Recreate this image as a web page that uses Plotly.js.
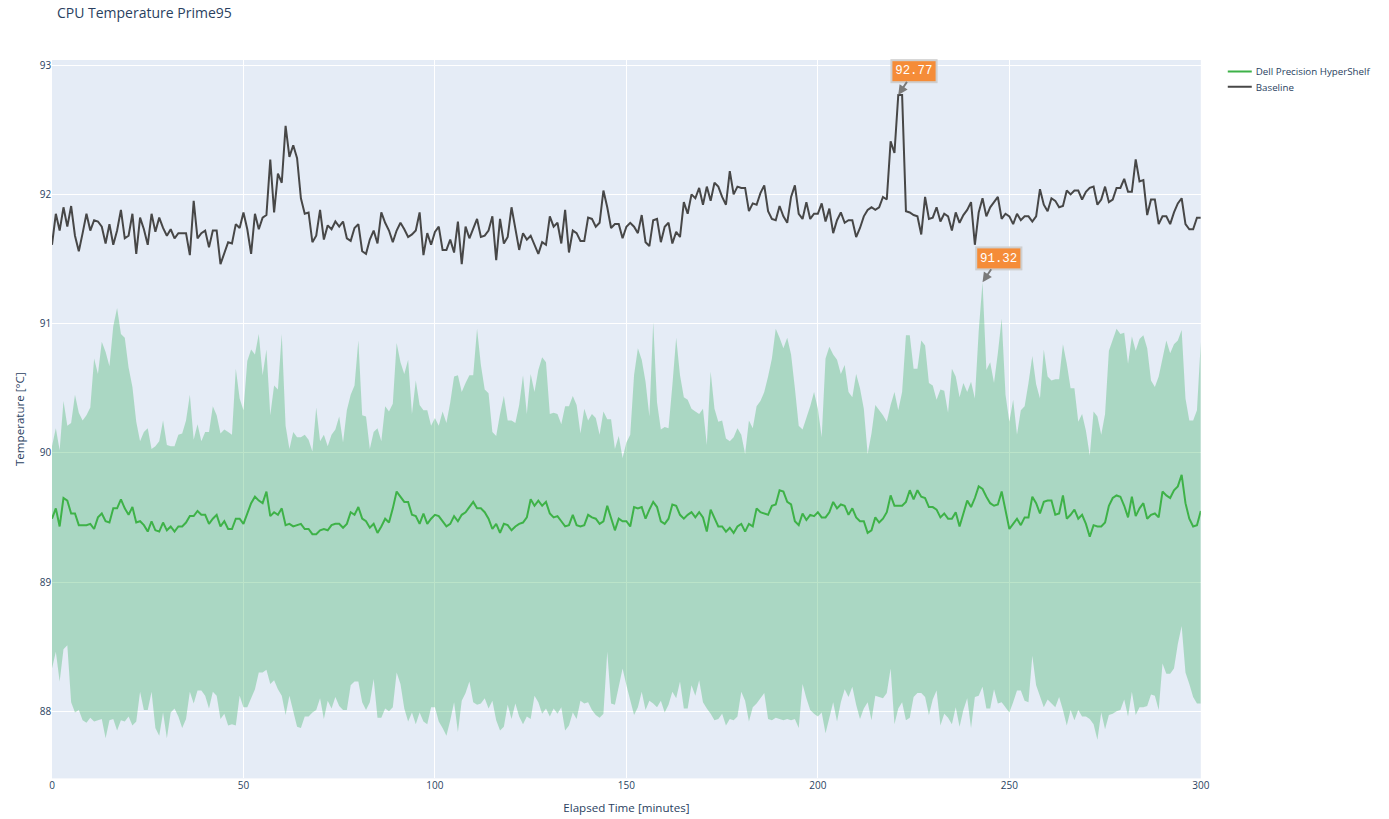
<!DOCTYPE html>
<html>
<head>
<meta charset="utf-8">
<script src="https://cdn.plot.ly/plotly-3.0.1.min.js"></script>
<style>
html,body{margin:0;padding:0;background:#fff;overflow:hidden}
#wrap{width:1389px;height:819px;overflow:hidden;position:relative}
#chart{width:1736px;height:1024px;transform:scale(0.8);transform-origin:0 0;position:absolute;left:0;top:0}
</style>
</head>
<body>
<div id="wrap"><div id="chart"></div></div>
<script>
// Baseline CPU temperature, one value per minute (0..300)
const baseline = [
91.61,91.85,91.72,91.90,91.75,91.91,91.68,91.56,91.70,91.85,
91.72,91.80,91.79,91.75,91.62,91.77,91.61,91.72,91.88,91.66,
91.68,91.85,91.54,91.82,91.73,91.61,91.85,91.71,91.82,91.74,
91.68,91.73,91.66,91.70,91.70,91.70,91.53,91.95,91.66,91.70,
91.72,91.59,91.72,91.72,91.46,91.54,91.63,91.62,91.77,91.74,
91.86,91.73,91.54,91.85,91.73,91.82,91.84,92.27,91.86,92.16,
92.09,92.53,92.29,92.38,92.28,91.97,91.85,91.86,91.63,91.68,
91.88,91.65,91.76,91.73,91.79,91.75,91.79,91.66,91.64,91.74,
91.77,91.56,91.54,91.65,91.72,91.62,91.86,91.78,91.72,91.63,
91.72,91.78,91.73,91.67,91.69,91.72,91.86,91.53,91.70,91.61,
91.71,91.75,91.57,91.57,91.65,91.55,91.79,91.46,91.75,91.66,
91.73,91.81,91.67,91.68,91.72,91.83,91.49,91.81,91.62,91.67,
91.90,91.73,91.57,91.70,91.65,91.68,91.61,91.54,91.63,91.61,
91.83,91.75,91.78,91.62,91.88,91.55,91.72,91.70,91.64,91.64,
91.82,91.81,91.75,91.78,92.03,91.90,91.74,91.77,91.77,91.66,
91.75,91.78,91.75,91.70,91.84,91.63,91.60,91.80,91.81,91.63,
91.75,91.78,91.62,91.71,91.67,91.94,91.85,92.00,91.97,92.05,
91.92,92.06,91.95,92.09,92.06,91.98,91.92,92.18,92.00,92.06,
92.05,92.05,91.87,91.93,91.92,92.01,92.07,91.87,91.81,91.80,
91.91,91.83,91.78,91.98,92.07,91.85,91.81,91.94,91.81,91.85,
91.85,91.93,91.79,91.89,91.70,91.80,91.86,91.78,91.80,91.80,
91.67,91.74,91.83,91.88,91.90,91.88,91.90,91.98,91.96,92.41,
92.32,92.77,92.77,91.87,91.86,91.84,91.83,91.69,91.98,91.81,
91.82,91.90,91.79,91.85,91.83,91.72,91.86,91.78,91.84,91.88,
91.94,91.61,91.86,91.97,91.83,91.90,91.94,91.98,91.81,91.85,
91.83,91.77,91.85,91.80,91.83,91.83,91.79,91.83,92.04,91.92,
91.87,91.97,91.95,91.90,91.91,92.03,92.00,92.03,92.03,91.96,
92.02,92.05,92.06,91.92,91.96,92.06,91.94,91.96,92.05,92.05,
92.12,92.02,92.02,92.27,92.10,92.11,91.84,91.96,91.96,91.77,
91.83,91.83,91.77,91.86,91.93,91.97,91.77,91.73,91.73,91.82,
91.82
];

// Dell Precision HyperShelf: mean temperature
const hyperMean = [
89.49,89.57,89.43,89.65,89.63,89.53,89.53,89.44,89.44,89.44,
89.45,89.41,89.50,89.53,89.47,89.46,89.57,89.57,89.64,89.57,
89.52,89.58,89.46,89.47,89.44,89.39,89.47,89.40,89.39,89.46,
89.40,89.43,89.39,89.43,89.43,89.46,89.51,89.51,89.55,89.52,
89.52,89.45,89.49,89.52,89.43,89.47,89.41,89.41,89.49,89.49,
89.45,89.53,89.61,89.66,89.63,89.61,89.70,89.51,89.54,89.52,
89.57,89.44,89.45,89.43,89.44,89.45,89.41,89.41,89.37,89.37,
89.40,89.41,89.40,89.44,89.45,89.45,89.42,89.45,89.54,89.52,
89.58,89.49,89.47,89.42,89.45,89.38,89.43,89.49,89.46,89.57,
89.70,89.66,89.62,89.62,89.52,89.51,89.45,89.53,89.45,89.49,
89.52,89.51,89.47,89.43,89.45,89.51,89.47,89.52,89.54,89.58,
89.62,89.57,89.57,89.54,89.49,89.41,89.45,89.38,89.45,89.44,
89.40,89.43,89.45,89.46,89.50,89.64,89.59,89.63,89.59,89.62,
89.53,89.50,89.51,89.47,89.43,89.44,89.52,89.44,89.43,89.44,
89.52,89.50,89.49,89.45,89.47,89.59,89.50,89.40,89.49,89.47,
89.47,89.43,89.58,89.57,89.58,89.49,89.56,89.62,89.58,89.47,
89.45,89.49,89.60,89.59,89.52,89.49,89.52,89.54,89.50,89.54,
89.50,89.39,89.56,89.50,89.43,89.43,89.39,89.42,89.38,89.43,
89.45,89.39,89.45,89.43,89.57,89.54,89.53,89.52,89.59,89.60,
89.71,89.70,89.62,89.60,89.47,89.44,89.53,89.48,89.52,89.51,
89.54,89.50,89.50,89.54,89.62,89.57,89.60,89.59,89.52,89.57,
89.50,89.47,89.47,89.38,89.40,89.50,89.46,89.49,89.54,89.67,
89.59,89.59,89.59,89.62,89.71,89.64,89.71,89.66,89.65,89.58,
89.58,89.56,89.50,89.53,89.49,89.49,89.54,89.43,89.53,89.63,
89.58,89.65,89.74,89.72,89.66,89.61,89.59,89.60,89.70,89.56,
89.41,89.45,89.49,89.44,89.50,89.50,89.66,89.61,89.53,89.62,
89.63,89.63,89.52,89.53,89.67,89.49,89.52,89.56,89.49,89.52,
89.45,89.35,89.44,89.43,89.43,89.46,89.59,89.65,89.67,89.66,
89.59,89.50,89.66,89.51,89.57,89.61,89.49,89.52,89.53,89.50,
89.70,89.67,89.65,89.71,89.74,89.83,89.61,89.49,89.43,89.44,
89.55
];

// Dell Precision HyperShelf: upper edge of band
const hyperUpper = [
90.05,90.19,90.02,90.40,90.21,90.23,90.45,90.31,90.25,90.29,
90.35,90.73,90.61,90.86,90.78,90.67,90.98,91.12,90.92,90.89,
90.66,90.51,90.24,90.09,90.16,90.19,90.03,90.05,90.09,90.25,
90.06,90.05,90.05,90.14,90.15,90.25,90.45,90.10,90.22,90.09,
90.16,90.16,90.36,90.29,90.15,90.18,90.16,90.14,90.65,90.42,
90.33,90.71,90.80,90.76,90.92,90.60,90.80,90.29,90.52,90.49,
90.92,90.21,90.03,90.16,90.12,90.12,90.14,90.10,90.01,90.35,
90.09,90.14,90.05,90.14,90.18,90.28,90.08,90.33,90.45,90.52,
90.87,90.29,90.28,90.03,90.16,90.19,90.09,90.36,90.32,90.38,
90.85,90.70,90.61,90.72,90.30,90.56,90.37,90.33,90.33,90.21,
90.27,90.21,90.32,90.23,90.39,90.59,90.60,90.47,90.54,90.60,
90.60,90.96,90.68,90.49,90.46,90.16,90.13,90.30,90.44,90.25,
90.25,90.23,90.37,90.60,90.30,90.61,90.47,90.64,90.74,90.70,
90.30,90.31,90.30,90.22,90.36,90.36,90.44,90.37,90.15,90.34,
90.25,90.30,90.27,90.14,90.32,90.26,90.26,90.03,90.13,89.96,
90.08,90.14,90.60,90.81,90.72,90.55,90.28,91.01,90.39,90.18,
90.20,90.19,90.52,90.89,90.60,90.43,90.41,90.34,90.32,90.30,
90.34,90.06,90.63,90.34,90.24,90.25,90.11,90.09,90.12,90.19,
90.14,89.99,90.25,90.19,90.36,90.40,90.47,90.59,90.73,90.96,
90.89,90.81,90.89,90.76,90.50,90.21,90.18,90.27,90.36,90.47,
90.34,90.12,90.73,90.82,90.76,90.72,90.61,90.68,90.47,90.43,
90.61,90.50,90.34,89.99,90.15,90.37,90.33,90.29,90.24,90.37,
90.47,90.33,90.47,90.91,90.91,90.65,90.65,90.87,90.83,90.54,
90.52,90.41,90.49,90.48,90.31,90.65,90.59,90.43,90.54,90.47,
90.55,90.42,90.94,91.32,90.64,90.70,90.54,90.77,91.04,90.45,
90.24,90.41,90.14,90.33,90.36,90.54,90.75,90.53,90.42,90.80,
90.59,90.56,90.57,90.57,90.84,90.69,90.50,90.50,90.24,90.30,
90.17,89.98,90.32,90.28,90.14,90.30,90.79,90.87,90.96,90.92,
90.93,90.69,90.90,90.79,90.88,90.91,90.81,90.56,90.51,90.59,
90.72,90.87,90.77,90.84,90.87,90.95,90.42,90.25,90.25,90.33,
90.86
];

// Dell Precision HyperShelf: lower edge of band
const hyperLower = [
88.33,88.46,88.23,88.48,88.51,88.07,87.99,88.01,87.93,87.91,
87.95,87.92,87.93,87.94,87.79,87.93,87.94,87.85,87.93,87.92,
87.96,87.89,87.92,88.15,88.01,88.01,88.15,87.87,87.81,87.99,
87.79,87.99,88.02,87.96,87.87,87.94,88.15,88.06,88.16,88.16,
88.12,88.02,88.15,88.12,87.94,87.98,87.89,87.90,87.89,88.12,
88.03,88.03,88.10,88.17,88.30,88.30,88.32,88.21,88.24,88.17,
88.12,87.97,88.12,87.99,87.88,87.87,87.96,87.96,87.99,88.01,
88.10,87.94,88.08,88.02,88.11,88.04,88.01,88.01,88.20,88.23,
88.23,88.07,88.01,88.07,88.25,87.95,87.95,88.02,88.00,88.03,
88.30,88.21,88.02,87.92,87.99,87.90,87.99,87.92,87.90,88.03,
88.03,87.92,87.87,87.81,87.93,88.07,87.84,88.08,88.14,88.23,
88.07,88.05,88.06,88.10,88.02,88.08,87.93,87.85,87.88,88.05,
87.94,88.06,87.96,87.90,87.96,87.94,88.12,88.07,87.98,88.02,
87.96,88.02,87.98,88.03,87.85,87.89,87.99,87.94,88.08,88.06,
88.07,88.01,87.97,87.95,87.98,88.46,88.06,88.05,88.19,88.33,
88.20,88.08,87.97,88.03,88.15,88.01,88.08,88.06,88.03,88.08,
87.99,88.05,88.15,88.10,88.23,88.02,88.02,88.20,88.12,88.24,
88.07,88.02,87.98,87.93,87.94,87.98,87.89,87.94,87.93,87.96,
88.15,88.08,87.92,88.03,88.06,88.10,88.14,87.94,87.93,87.95,
87.94,87.93,87.94,87.93,87.94,87.87,88.21,88.10,88.01,87.98,
87.96,87.99,87.83,87.96,88.07,87.92,88.07,88.17,88.11,88.19,
88.05,87.94,88.02,88.07,87.93,88.12,88.11,88.10,88.14,88.33,
87.90,88.02,88.07,87.93,87.95,88.11,88.14,88.14,88.11,87.97,
88.09,88.16,87.89,87.98,87.95,87.90,88.03,87.88,88.01,88.10,
87.87,88.11,88.12,88.19,88.02,88.02,88.17,88.06,88.07,88.03,
87.99,88.07,88.16,88.16,88.08,88.07,88.43,88.20,88.12,88.03,
88.09,88.06,88.03,88.11,88.01,87.89,88.01,87.93,88.01,87.96,
87.96,87.94,87.90,87.78,87.99,87.86,87.97,87.98,88.00,88.01,
88.09,87.96,88.15,87.97,88.03,88.03,88.04,88.13,88.12,88.01,
88.37,88.29,88.29,88.33,88.52,88.66,88.30,88.21,88.11,88.06,
88.06
];

const minutes = baseline.map((_, i) => i);

// Labelled points
const labelMinutes = [221, 243];
const labelValues = [92.77, 91.32];

const fontFam = '"Open Sans", verdana, arial, sans-serif';

const traces = [
  {x: minutes, y: hyperUpper, type: 'scatter', mode: 'lines',
   line: {width: 0, color: 'rgba(60,179,100,0.35)'}, showlegend: false, hoverinfo: 'skip'},
  {x: minutes, y: hyperLower, type: 'scatter', mode: 'lines', fill: 'tonexty',
   fillcolor: 'rgba(60,179,100,0.35)',
   line: {width: 0, color: 'rgba(60,179,100,0.35)'}, showlegend: false, hoverinfo: 'skip'},
  {x: minutes, y: hyperMean, type: 'scatter', mode: 'lines', name: 'Dell Precision HyperShelf',
   line: {color: 'rgb(62,178,72)', width: 2.5}},
  {x: minutes, y: baseline, type: 'scatter', mode: 'lines', name: 'Baseline',
   line: {color: '#474747', width: 2.5}}
];

const annotations = labelMinutes.map((m, i) => ({
  x: m, y: labelValues[i], xref: 'x', yref: 'y',
  text: labelValues[i].toFixed(2),
  showarrow: true, arrowhead: 2, arrowsize: 1, arrowwidth: 2.4, arrowcolor: '#7a7a7a',
  ax: 20, ay: -30,
  font: {family: '"Liberation Mono", "Courier New", monospace', size: 15.5, color: '#ffffff'},
  bgcolor: '#F58C38', bordercolor: '#cfcfcf', borderwidth: 2.5, borderpad: 3.5
}));

const layout = {
  width: 1736, height: 1024,
  margin: {l: 65, r: 235, t: 75, b: 51, autoexpand: false},
  paper_bgcolor: '#ffffff',
  plot_bgcolor: '#E5ECF6',
  font: {family: fontFam, size: 12.5, color: '#2a3f5f'},
  title: {text: 'CPU Temperature Prime95', x: 0.041, xanchor: 'left', y: 0.984, yanchor: 'middle',
          font: {size: 17.5, color: '#2a3f5f'}},
  xaxis: {
    title: {text: 'Elapsed Time [minutes]', font: {size: 14.5}, standoff: 15},
    range: [0, 300], tickvals: [0, 50, 100, 150, 200, 250, 300],
    gridcolor: '#ffffff', gridwidth: 1.25, zeroline: false, showline: false, ticks: '',
    automargin: false, tickfont: {size: 12.5}
  },
  yaxis: {
    title: {text: 'Temperature [°C]', font: {size: 14.5}, standoff: 15},
    range: [87.48, 93.04], tickvals: [88, 89, 90, 91, 92, 93],
    gridcolor: '#ffffff', gridwidth: 1.25, zeroline: false, showline: false, ticks: '',
    automargin: false, tickfont: {size: 12.5}
  },
  legend: {x: 1.02, y: 1, xanchor: 'left', yanchor: 'top', traceorder: 'normal',
           font: {size: 12.2}, bgcolor: 'rgba(0,0,0,0)'},
  annotations: annotations,
  showlegend: true
};

Plotly.newPlot('chart', traces, layout, {displayModeBar: false, staticPlot: true});
</script>
</body>
</html>
